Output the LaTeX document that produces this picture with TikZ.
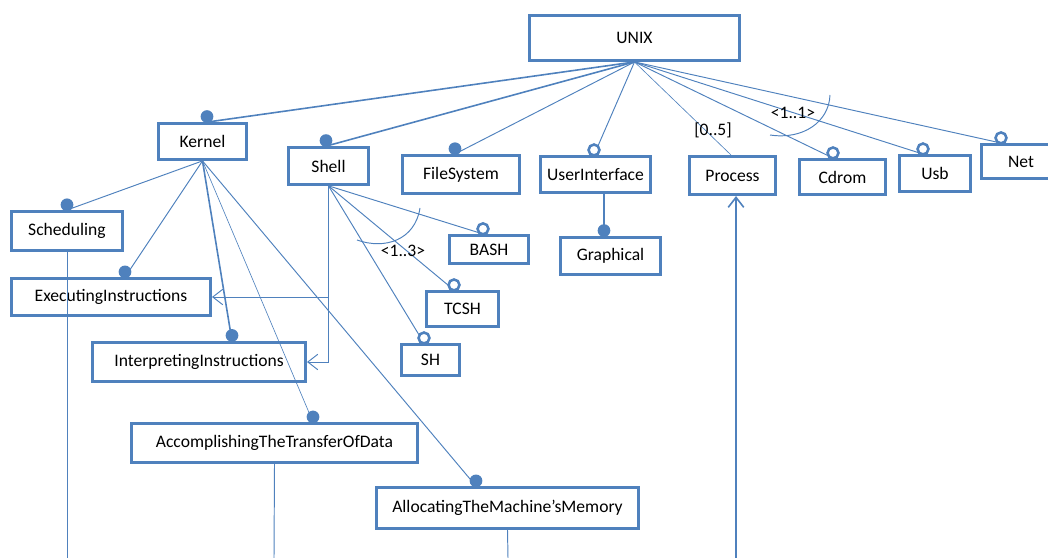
\documentclass[tikz,border=0pt]{standalone}
\usepackage{fontspec}
\setmainfont{Carlito}
\usetikzlibrary{arrows.meta}
\definecolor{umlblue}{RGB}{79,129,189}

\begin{document}
\begin{tikzpicture}[x=0.22mm,y=-0.22mm,
    feature/.style={draw=umlblue,line width=1.8pt,inner sep=0pt,font=\fontsize{11}{13}\selectfont},
    card/.style={inner sep=1pt,font=\fontsize{11}{13}\selectfont},
    mandatory/.style={circle,fill=umlblue,inner sep=0pt,minimum size=2.8mm,anchor=south,yshift=-1pt},
    optional/.style={circle,draw=umlblue,line width=1.6pt,fill=white,inner sep=0pt,minimum size=2.4mm,anchor=south,yshift=-1pt},
    link/.style={umlblue,line width=0.6pt},
    heavy/.style={umlblue,line width=1pt},
    req/.style={link,-{Straight Barb[length=2.2mm,width=3.4mm]}}]
  \useasboundingbox (0,0) rectangle (1048,558);
  % Merkmale
  \node[feature,minimum width=46.2mm,minimum height=9.9mm] (unix) at (634.5,38) {UNIX};
  \node[feature,minimum width=19.4mm,minimum height=7.9mm] (kernel) at (202.5,141.5) {Kernel};
  \node[feature,minimum width=17.6mm,minimum height=8.1mm] (shell) at (328.5,166) {Shell};
  \node[feature,minimum width=25.7mm,minimum height=8.4mm] (filesys) at (461,174.5) {FileSystem};
  \node[feature,minimum width=24.2mm,minimum height=7.9mm] (ui) at (595.5,174.5) {UserInterface};
  \node[feature,minimum width=22mm,minimum height=8.1mm] (graph) at (610.5,256) {Graphical};
  \node[feature,minimum width=18.9mm,minimum height=8.4mm] (process) at (732.5,175.5) {Process};
  \node[feature,minimum width=18.9mm,minimum height=7.7mm] (cdrom) at (842.5,177) {Cdrom};
  \node[feature,minimum width=15.6mm,minimum height=7.9mm] (usb) at (935,173.5) {Usb};
  \node[feature,minimum width=17.5mm,minimum height=7.5mm] (net) at (1021,161.5) {Net};
  \node[feature,minimum width=24.4mm,minimum height=8.6mm] (sched) at (67,231) {Scheduling};
  \node[feature,minimum width=43.8mm,minimum height=8.1mm] (exec) at (111,297) {ExecutingInstructions};
  \node[feature,minimum width=46.9mm,minimum height=8.6mm] (interp) at (199,362) {InterpretingInstructions};
  \node[feature,minimum width=62.9mm,minimum height=8.6mm] (transfer) at (274.5,443) {AccomplishingTheTransferOfData};
  \node[feature,minimum width=57.6mm,minimum height=9mm] (memory) at (507.5,508) {AllocatingTheMachine’sMemory};
  \node[feature,minimum width=17.4mm,minimum height=6.2mm] (bash) at (489,249.5) {BASH};
  \node[feature,minimum width=15.8mm,minimum height=7.7mm] (tcsh) at (462.5,309) {TCSH};
  \node[feature,minimum width=12.8mm,minimum height=6.8mm] (sh) at (430.5,360) {SH};

  % UNIX
  \draw[heavy] (unix.south) -- (207,0 |- kernel.north) node[mandatory]{};
  \draw[heavy] (unix.south) -- (326,0 |- shell.north) node[mandatory]{};
  \draw[link] (unix.south) -- (455,0 |- filesys.north) node[mandatory]{};
  \draw[link] (unix.south) -- (594,0 |- ui.north) node[optional]{};
  \draw[umlblue,line width=0.4pt] (unix.south) -- (731,0 |- process.north);
  \foreach \n/\x in {cdrom/833,usb/923,net/1001}
    \draw[link] (unix.south) -- (\x,0 |- \n.north) node[optional]{};
  \draw[link] (830,95) .. controls (829,122) and (803,140) .. (770,135);
  \node[card] (card11) at (793,113) {<1..1>};
  \node[card] (card05) at (713,130) {[0..5]};

  % Kernel
  \draw[link] (kernel.south) -- (67,0 |- sched.north) node[mandatory]{};
  \draw[link] (kernel.south) -- (125,0 |- exec.north) node[mandatory]{};
  \draw[heavy] (kernel.south) -- (232,0 |- interp.north) node[mandatory]{};
  \draw[umlblue,line width=0.4pt] (kernel.south) -- (313,0 |- transfer.north) node[mandatory]{};
  \draw[link] (kernel.south) -- (476,0 |- memory.north) node[mandatory]{};

  % Shell
  \draw[req] (shell.south) |- (exec.east);
  \draw[req] (shell.south) |- (interp.east);
  \foreach \n/\x in {bash/483,tcsh/454,sh/424}
    \draw[link] (shell.south) -- (\x,0 |- \n.north) node[optional]{};
  \draw[link] (420,208) .. controls (415,240) and (385,250) .. (357,240);
  \node[card] (card13) at (403,251) {<1..3>};

  % UserInterface
  \draw[heavy] (604,0 |- ui.south) -- (604,0 |- graph.north) node[mandatory]{};

  % Linien nach unten
  \coordinate (schedend) at (67,558);
  \coordinate (transferend) at (274,558);
  \coordinate (memoryend) at (508,558);
  \coordinate (processend) at (736,558);
  \draw[link] (sched.south) -- (schedend);
  \draw[link] (transfer.south) -- (transferend);
  \draw[link] (memory.south) -- (memoryend);
  \draw[req,line width=1pt] (processend) -- (736,0 |- process.south);
\end{tikzpicture}
\end{document}
